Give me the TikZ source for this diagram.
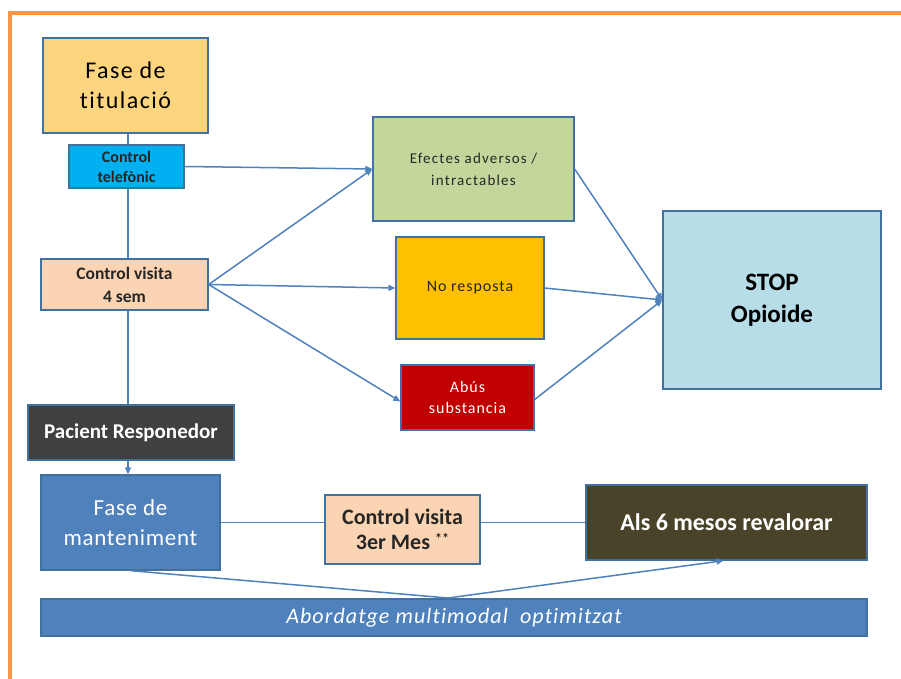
\documentclass[tikz,border=0pt]{standalone}
\usepackage{fontspec}
\setmainfont{Carlito}[Ligatures={NoCommon}]
\usetikzlibrary{arrows.meta,backgrounds}
\definecolor{edge}{HTML}{41719C}
\definecolor{conn}{HTML}{4F81BD}
\definecolor{frame}{HTML}{F79646}
\definecolor{titfill}{HTML}{FDD57E}
\definecolor{telfill}{HTML}{00B0F0}
\definecolor{peach}{HTML}{FBD4B4}
\definecolor{effill}{HTML}{C3D69B}
\definecolor{nrfill}{HTML}{FFC000}
\definecolor{abfill}{HTML}{C00000}
\definecolor{stopfill}{HTML}{B7DDE8}
\definecolor{prfill}{HTML}{404040}
\definecolor{bluefill}{HTML}{4F81BD}
\definecolor{alsfill}{HTML}{494429}
\definecolor{dtext}{HTML}{262626}
\tikzset{
  box/.style={draw=edge, line width=1.3pt, inner sep=0pt, align=center, rectangle},
  conline/.style={draw=conn, line width=1.5pt},
  conarrow/.style={conline, -{Triangle[length=7pt,width=6pt]}},
}
\begin{document}
\begin{tikzpicture}[x=1pt,y=-1pt]
\useasboundingbox (0,0) rectangle (901,679);
\draw[frame, line width=4pt] (901,13) -- (10,13) -- (10,679);

\node[box, fill=titfill, minimum width=165pt, minimum height=95pt, font=\fontsize{24}{30}\selectfont\addfontfeatures{LetterSpace=6}] (tit) at (125.5,85.5) {Fase de\\titulació};
\node[box, fill=telfill, minimum width=115pt, minimum height=43pt, font=\fontsize{16}{20}\selectfont\bfseries, text=dtext] (tel) at (126.5,166.5) {Control\\telefònic};
\node[box, fill=peach, minimum width=167pt, minimum height=51pt, font=\fontsize{17.5}{23}\selectfont\bfseries, text=dtext] (cv4) at (124.5,284.5) {Control visita\\4 sem};
\node[box, fill=effill, minimum width=201pt, minimum height=104pt, font=\fontsize{15}{22}\selectfont\addfontfeatures{LetterSpace=8}, text=dtext] (ef) at (473.5,169) {Efectes adversos /\\intractables};
\node[box, fill=nrfill, minimum width=148pt, minimum height=102pt, font=\fontsize{16}{20}\selectfont\addfontfeatures{LetterSpace=6}, text=dtext] (nr) at (470,288) {No resposta};
\node[box, fill=abfill, minimum width=133pt, minimum height=65pt, font=\fontsize{16}{21}\selectfont\addfontfeatures{LetterSpace=6}, text=white] (ab) at (467.5,397.5) {Abús\\substancia};
\node[box, fill=stopfill, minimum width=218pt, minimum height=178pt, font=\fontsize{25}{32}\selectfont\bfseries, text=black] (stop) at (772,300) {STOP\\Opioide};
\node[box, fill=prfill, minimum width=206pt, minimum height=55pt, font=\fontsize{21}{24}\selectfont\bfseries, text=white] (pr) at (131,432.5) {Pacient Responedor};
\node[box, fill=bluefill, minimum width=179pt, minimum height=95pt, font=\fontsize{23}{30}\selectfont\addfontfeatures{LetterSpace=3}, text=white] (fm) at (130.5,522.5) {Fase de\\manteniment};
\node[box, fill=peach, minimum width=155pt, minimum height=69pt, font=\fontsize{22}{25}\selectfont\bfseries, text=dtext] (cv3) at (402.5,529.5) {Control visita\\3er Mes \raisebox{6pt}{\fontsize{14}{14}\selectfont **}};
\node[box, fill=alsfill, minimum width=281pt, minimum height=75pt, font=\fontsize{24}{28}\selectfont\bfseries, text=white] (als) at (726.5,522.5) {Als 6 mesos revalorar};
\node[box, fill=bluefill, minimum width=826pt, minimum height=37pt, font=\fontsize{22}{24}\selectfont\itshape\addfontfeatures{LetterSpace=5}, text=white] (abo) at (454,617.5) {Abordatge multimodal\ \ optimitzat};

\coordinate (apex) at (448,598);

\begin{scope}[on background layer]
\draw[conline] ([xshift=2.5pt]tit.south) -- ([xshift=2.5pt]tit.south |- cv4.north);
\draw[conline] ([xshift=3.5pt]cv4.south) -- ([xshift=3.5pt]cv4.south |- pr.north);
\end{scope}
\draw[conarrow] ([xshift=-3pt]pr.south) -- ([xshift=-3pt]pr.south |- fm.north);
\draw[conarrow] (tel.east) -- (ef.west);
\draw[conarrow] (cv4.east) -- (ef.west);
\draw[conarrow] (cv4.east) -- (nr.west);
\draw[conarrow] (cv4.east) -- ([yshift=-4pt]ab.west);
\draw[conarrow] (ef.east) -- (stop.west);
\draw[conarrow] (nr.east) -- (stop.west);
\draw[conarrow] ([yshift=-2pt]ab.east) -- (stop.west);
\draw[conline] (fm.east) -- (fm.east -| cv3.west);
\draw[conline] (cv3.east |- als.west) -- (als.west);
\draw[conarrow] (fm.south) -- (apex) -- ([xshift=-3pt]als.south);
\end{tikzpicture}
\end{document}
